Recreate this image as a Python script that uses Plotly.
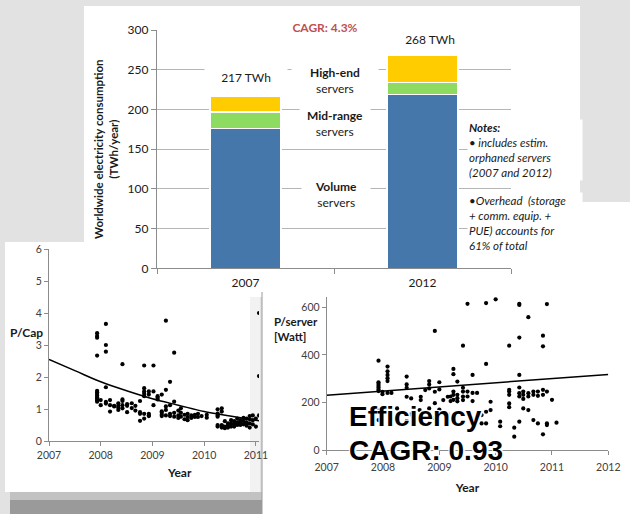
import plotly.graph_objects as go

W, H = 630, 514
def px(x): return x / W
def py(y): return 1 - y / H

# ---------------- top chart data ----------------
years_top = ["2007", "2012"]
volume = [176, 219]
mid_range = [21, 15]
high_end = [20, 34]
total_labels = ["217 TWh", "268 TWh"]
total_label_pos = [241, 289]

# ---------------- left chart (P/Cap) ----------------
pcap_years = (
    [2007.93]*12 + [2008.00]*2 + [2008.10]*6 + [2008.18]*3 + [2008.26]*2 + [2008.34]*4 +
    [2008.42]*5 + [2008.51]*3 + [2008.60]*2 + [2008.67]*2 + [2008.76]*4 + [2008.84]*7 +
    [2008.93]*5 + [2009.02]*3 + [2009.10]*3 + [2009.18]*5 + [2009.26]*5 + [2009.34]*4 +
    [2009.42]*4 + [2009.50]*3 + [2009.55]*3 + [2009.62]*2 + [2009.68]*3 + [2009.75]*2 +
    [2009.82]*2 + [2009.88]*2 + [2009.95]*1 + [2010.05]*2 + [2010.26]*6 + [2010.34]*5 +
    [2010.40]*3 + [2010.46]*3 + [2010.52]*3 + [2010.58]*3 + [2010.64]*3 + [2010.70]*3 +
    [2010.76]*3 + [2010.82]*3 + [2010.88]*4 + [2010.94]*3 + [2011.00]*2 + [2011.06]*3
)
pcap_values = [
    3.37, 3.28, 3.23, 2.67, 1.57, 1.52, 1.47, 1.42, 1.37, 1.32, 1.27, 1.23,
    1.28, 1.12,
    3.66, 3.00, 2.79, 1.68, 1.22, 1.17,
    1.28, 0.92, 1.12,
    1.10, 1.08,
    1.18, 1.10, 0.97, 1.05,
    2.40, 1.30, 1.25, 1.12, 1.02,
    1.10, 0.90, 1.15,
    1.18, 1.03,
    1.10, 0.95,
    1.25, 0.90, 0.85, 0.63,
    2.36, 1.65, 1.55, 1.48, 1.40, 0.85, 0.70,
    1.55, 1.45, 0.85, 0.80, 0.78,
    2.36, 1.55, 1.12,
    1.40, 1.30, 1.35,
    1.45, 0.93, 0.88, 0.82, 0.78,
    3.76, 1.60, 1.08, 0.97, 0.80,
    1.85, 1.12, 0.85, 0.78,
    2.76, 1.23, 0.88, 0.76,
    0.95, 0.80, 0.72,
    1.02, 0.88, 0.76,
    0.82, 0.68,
    0.85, 0.75, 0.65,
    0.80, 0.72,
    0.82, 0.75,
    0.85, 0.75,
    0.78,
    0.82, 0.73,
    0.99, 0.86, 0.80, 0.76, 0.50, 0.45,
    1.02, 0.92, 0.47, 0.42, 0.50,
    0.62, 0.45, 0.40,
    0.55, 0.48, 0.42,
    0.65, 0.55, 0.45,
    0.62, 0.52, 0.45,
    0.70, 0.58, 0.50,
    0.65, 0.55, 0.50,
    0.72, 0.62, 0.52,
    0.70, 0.58, 0.48,
    0.78, 0.68, 0.55, 0.42,
    0.80, 0.65, 0.52,
    0.70, 0.45,
    4.00, 2.03, 0.80,
]
pcap_trend_years = [2007, 2007.5, 2008, 2008.5, 2009, 2009.5, 2010, 2010.5, 2011.06]
pcap_trend_values = [2.55, 2.2, 1.85, 1.57, 1.32, 1.12, 0.92, 0.78, 0.63]

# ---------------- right chart (P/server) ----------------
pserver_years = (
    [2007.92]*9 + [2007.99]*2 + [2008.08]*6 + [2008.15]*1 + [2008.25]*2 + [2008.42]*5 +
    [2008.50]*2 + [2008.65]*1 + [2008.67]*2 + [2008.75]*1 + [2008.82]*4 + [2008.92]*4 +
    [2009.00]*3 + [2009.07]*1 + [2009.13]*1 + [2009.15]*2 + [2009.20]*2 + [2009.25]*5 +
    [2009.32]*4 + [2009.42]*5 + [2009.50]*3 + [2009.59]*3 + [2009.67]*1 + [2009.75]*2 +
    [2009.83]*4 + [2009.91]*2 + [2010.00]*1 + [2010.08]*2 + [2010.24]*6 + [2010.33]*2 +
    [2010.42]*8 + [2010.49]*4 + [2010.58]*4 + [2010.67]*3 + [2010.75]*3 + [2010.84]*5 +
    [2010.91]*4 + [2011.00]*1 + [2011.08]*1
)
pserver_values = [
    376, 285, 278, 270, 263, 255, 248, 168, 126,
    245, 235,
    351, 331, 316, 302, 290, 240,
    240,
    175, 140,
    309, 276, 262, 224, 122,
    217, 150,
    168,
    224, 210,
    252,
    290, 276, 259, 175,
    501, 245, 197, 135,
    285, 255, 170,
    210,
    112,
    224, 150,
    225, 206,
    341, 319, 246, 232, 211,
    288, 232, 218, 205,
    439, 262, 246, 225, 210,
    615, 246, 225,
    316, 240, 206,
    240,
    147, 112,
    618, 362, 161, 112,
    203, 168,
    634,
    119, 100,
    439, 253, 246, 232, 196, 180,
    94, 56,
    615, 610, 473, 316, 263, 239, 225, 119,
    246, 232, 215, 175,
    559, 239, 225, 168,
    246, 232, 126,
    246, 228, 112,
    481, 436, 253, 232, 66,
    614, 246, 112, 105,
    211,
    115,
]
pserver_trend_years = [2007, 2012]
pserver_trend_values = [230, 318]

FONT = "Lato, 'Open Sans', sans-serif"
AXC = "#8c8c8c"
TXT = "#1a1a1a"

fig = go.Figure()

# top stacked bars
bar_w = 0.4
for vals, col in [(volume, "#4677ab"), (mid_range, "#8ddc61"), (high_end, "#ffcc00")]:
    fig.add_trace(go.Bar(x=years_top, y=vals, marker=dict(color=col, line=dict(color="white", width=1.5)),
                         width=bar_w, xaxis="x", yaxis="y", showlegend=False, hoverinfo="skip"))

# left scatter
fig.add_trace(go.Scatter(x=pcap_years, y=pcap_values, mode="markers", marker=dict(color="black", size=4.2),
                         xaxis="x2", yaxis="y2", showlegend=False))
fig.add_trace(go.Scatter(x=pcap_trend_years, y=pcap_trend_values, mode="lines", line=dict(color="black", width=1.5, shape="spline"),
                         xaxis="x2", yaxis="y2", showlegend=False))
# right scatter
fig.add_trace(go.Scatter(x=pserver_years, y=pserver_values, mode="markers", marker=dict(color="black", size=4.2),
                         xaxis="x3", yaxis="y3", showlegend=False))
fig.add_trace(go.Scatter(x=pserver_trend_years, y=pserver_trend_values, mode="lines", line=dict(color="black", width=1.5),
                         xaxis="x3", yaxis="y3", showlegend=False))

shapes = [
    dict(type="rect", xref="paper", yref="paper", x0=px(262), x1=1, y0=0, y1=py(202), fillcolor="white", line=dict(width=0), layer="below"),
    dict(type="rect", xref="paper", yref="paper", x0=px(84), x1=px(580), y0=py(297), y1=py(6), fillcolor="white", line=dict(width=0), layer="below"),
    dict(type="rect", xref="paper", yref="paper", x0=px(5), x1=px(260), y0=py(492), y1=py(242), fillcolor="white", line=dict(width=0), layer="below"),
    dict(type="rect", xref="paper", yref="paper", x0=px(250), x1=px(260), y0=py(492), y1=py(297), fillcolor="#f2f2f2", line=dict(width=0), layer="below"),
    dict(type="rect", xref="paper", yref="paper", x0=px(10), x1=px(262), y0=py(500), y1=py(492), fillcolor="#c2c2c2", line=dict(width=0), layer="below"),
    dict(type="rect", xref="paper", yref="paper", x0=px(10), x1=px(262), y0=py(514), y1=py(500), fillcolor="#9a9a9a", line=dict(width=0), layer="below"),
    dict(type="line", xref="paper", yref="paper", x0=px(262), x1=px(262), y0=0, y1=py(292), line=dict(color="#9a9a9a", width=1), layer="below"),
]

ann = []
def a(text, x, y, size=12, color=TXT, xanchor="center", yanchor="middle", align="center", bg=None, width=None, height=None, family=FONT, **kw):
    d = dict(text=text, x=px(x), y=py(y), xref="paper", yref="paper", showarrow=False,
             font=dict(size=size, color=color, family=family), xanchor=xanchor, yanchor=yanchor, align=align)
    if bg: d["bgcolor"] = bg
    if width: d["width"] = width
    if height: d["height"] = height
    d.update(kw)
    ann.append(d)

# top chart total labels (category index positions)
for i, (lbl, pos, xs) in enumerate(zip(total_labels, total_label_pos, [0, 7])):
    ann.append(dict(text=lbl, x=i, y=pos, xref="x", yref="y", showarrow=False, xshift=xs,
                    font=dict(size=12, color=TXT, family=FONT), bgcolor="white", width=80, height=24))
a("<b>CAGR: 4.3%</b>", 325, 27, size=12, color="#c0504d", bg="white", width=92, height=14)
a("<b>High-end</b><br>servers", 335, 80, size=12, bg="white", width=84)
a("<b>Mid-range</b><br>servers", 335, 123, size=12, bg="white", width=68)
a("<b>Volume</b><br>servers", 336, 194, size=12, bg="white", width=66)
a("<i><b>Notes:</b><br>• includes estim.<br>orphaned servers<br>(2007 and 2012)</i>", 467, 119, size=11.5,
  xanchor="left", yanchor="top", align="left", bg="white", width=112)
a("<i>•Overhead  (storage<br>+ comm. equip. +<br>PUE) accounts for<br>61% of total</i>", 467, 192, size=11.5,
  xanchor="left", yanchor="top", align="left", bg="white", width=112)

a("<b>P/Cap</b>", 26, 332, size=12)
a("<b>Year</b>", 179, 472, size=12)
a("<b>P/server</b><br><b>[Watt]</b>", 272, 329, size=11.5, xanchor="left", align="left")

shadow = "1px 1px 0 #fff, -1px -1px 0 #fff, 1px -1px 0 #fff, -1px 1px 0 #fff, 0 2px 1px #fff, 2px 0 1px #fff"
for txt, yy in [("Efficiency", 416), ("CAGR: 0.93", 450)]:
    ann.append(dict(text=f"<b>{txt}</b>", x=px(347), y=py(yy), xref="paper", yref="paper", showarrow=False,
                    xanchor="left", yanchor="middle",
                    font=dict(size=28, color="black", family="'Liberation Sans', Arial, sans-serif", shadow=shadow)))

tickf = dict(size=10.5, color="#404040", family=FONT)
fig.update_layout(
    width=W, height=H, autosize=False,
    margin=dict(l=0, r=0, t=0, b=0, pad=0),
    paper_bgcolor="#e2e2e2", plot_bgcolor="rgba(0,0,0,0)",
    barmode="stack",
    shapes=shapes, annotations=ann,
    xaxis=dict(domain=[px(157), px(511)], anchor="y", type="category", range=[-0.5, 1.5], automargin=False,
               tickson="boundaries", ticks="outside", ticklen=5, tickcolor=AXC, ticklabelstandoff=3,
               showline=True, linecolor=AXC, linewidth=1.3, showgrid=False,
               tickfont=dict(size=12, color=TXT, family=FONT)),
    yaxis=dict(domain=[py(268.3), py(30)], anchor="x", range=[0, 300], dtick=50, automargin=False,
               showgrid=True, gridcolor="#b5b5b5", gridwidth=1.3, zeroline=False,
               showline=True, linecolor=AXC, linewidth=1.3, ticks="outside", ticklen=5, tickcolor=AXC,
               tickfont=dict(size=12, color=TXT, family=FONT),
               title=dict(text="<b>Worldwide electricity consumption<br>(TWh/year)</b>",
                          font=dict(size=11.5, color=TXT, family=FONT), standoff=6)),
    xaxis2=dict(domain=[px(49), px(259)], anchor="y2", range=[2007, 2011.06], automargin=False,
                tickvals=[2007, 2008, 2009, 2010, 2011], ticks="outside", ticklen=4, tickcolor=AXC,
                showline=True, linecolor=AXC, showgrid=False, zeroline=False, tickfont=tickf),
    yaxis2=dict(domain=[py(441), py(249)], anchor="x2", range=[0, 6], dtick=1, automargin=False,
                ticks="outside", ticklen=4, tickcolor=AXC, showline=True, linecolor=AXC,
                showgrid=False, zeroline=False, tickfont=tickf),
    xaxis3=dict(domain=[px(326.7), px(608.3)], anchor="y3", range=[2007, 2012], dtick=1, automargin=False,
                ticks="outside", ticklen=4, tickcolor=AXC, ticklabelstandoff=3, showline=True, linecolor=AXC,
                showgrid=False, zeroline=False, tickfont=tickf,
                title=dict(text="<b>Year</b>", font=dict(size=12, color=TXT, family=FONT), standoff=12)),
    yaxis3=dict(domain=[py(450), py(296.7)], anchor="x3", range=[0, 645], automargin=False,
                tickvals=[0, 200, 400, 600], ticks="outside", ticklen=4, tickcolor=AXC,
                showline=True, linecolor=AXC, showgrid=False, zeroline=False, tickfont=tickf),
)

fig.write_html("out.html", config={"displayModeBar": False},
               post_script="document.body.style.margin='0';document.body.style.overflow='hidden';")
